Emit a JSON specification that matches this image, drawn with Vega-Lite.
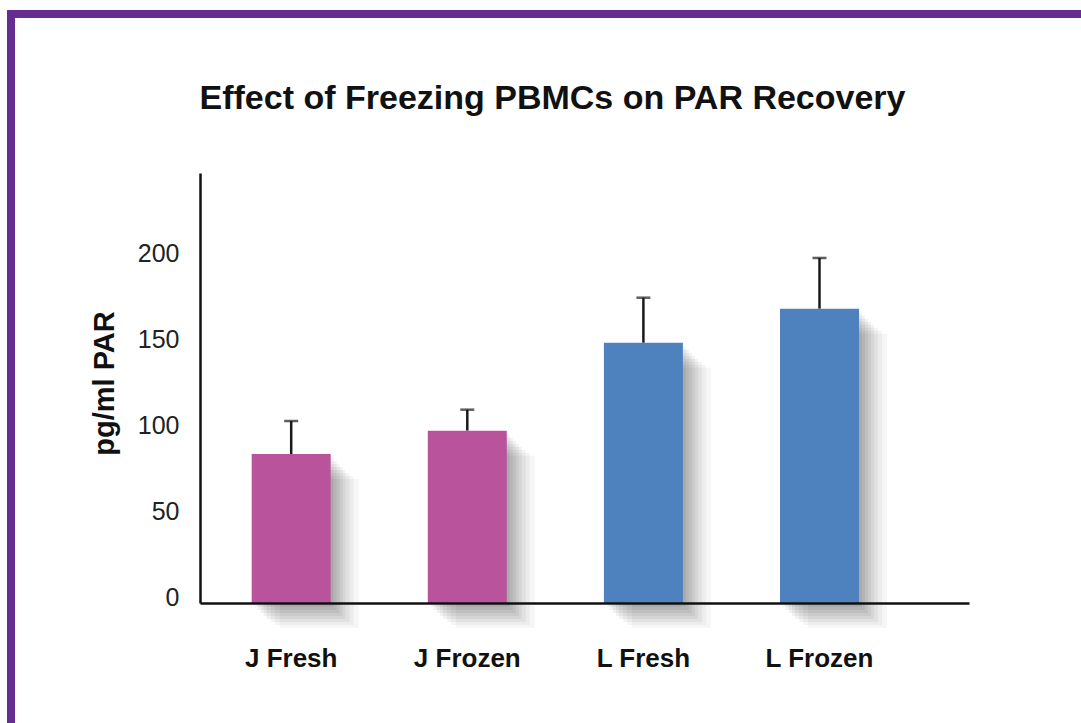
{
  "$schema": "https://vega.github.io/schema/vega-lite/v6.json",
  "padding": {"left": 7, "top": 10, "right": 0, "bottom": 0},
  "background": "white",
  "spacing": 0,
  "config": {
    "view": {"stroke": null},
    "font": "Liberation Sans"
  },
  "hconcat": [
    {
      "width": 8,
      "height": 713,
      "view": {"fill": "#652d90", "stroke": null},
      "data": {"values": []},
      "mark": {"type": "rule"},
      "encoding": {}
    },
    {
      "spacing": 0,
      "align": "none",
      "vconcat": [
        {
          "width": 1066,
          "height": 8,
          "view": {"fill": "#652d90", "stroke": null},
          "data": {"values": []},
          "mark": {"type": "rule"},
          "encoding": {}
        },
        {
          "spacing": 74,
          "hconcat": [
            {
              "width": 1,
              "height": 1,
              "view": {"fill": "white", "stroke": null},
              "data": {"values": []},
              "mark": {"type": "rule"},
              "encoding": {}
            },
            {
              "width": 769,
              "height": 430,
              "title": {
                "text": ["", "Effect of Freezing PBMCs on PAR Recovery"],
                "lineHeight": 64,
                "font": "Liberation Sans",
                "fontSize": 34,
                "fontWeight": "bold",
                "color": "#111111",
                "anchor": "middle",
                "frame": "group",
                "baseline": "alphabetic",
                "dx": -32,
                "offset": 30
              },
              "data": {
                "values": [
                  {"group": "J Fresh", "pbmc": "J", "value": 86.6, "err": 105.8},
                  {"group": "J Frozen", "pbmc": "J", "value": 100.2, "err": 112.4},
                  {"group": "L Fresh", "pbmc": "L", "value": 151.3, "err": 177.5},
                  {"group": "L Frozen", "pbmc": "L", "value": 171.1, "err": 200.6}
                ]
              },
              "encoding": {
                "x": {
                  "field": "group",
                  "type": "nominal",
                  "sort": null,
                  "scale": {"paddingInner": 0.5514, "paddingOuter": 0.4591, "align": 0.3197},
                  "axis": {
                    "title": null,
                    "labelAngle": 0,
                    "labelFont": "Liberation Sans",
                    "labelFontWeight": "bold",
                    "labelFontSize": 26,
                    "labelColor": "#111111",
                    "labelPadding": 42,
                    "ticks": false,
                    "domainColor": "#111111",
                    "domainWidth": 2.5,
                    "zindex": 1
                  }
                }
              },
              "layer": [
                {"mark": {"type": "bar", "color": "black", "opacity": 0.05, "xOffset": 3, "yOffset": 4}, "encoding": {"y": {"field": "value", "type": "quantitative"}}},
                {"mark": {"type": "bar", "color": "black", "opacity": 0.05, "xOffset": 6, "yOffset": 7}, "encoding": {"y": {"field": "value", "type": "quantitative"}}},
                {"mark": {"type": "bar", "color": "black", "opacity": 0.05, "xOffset": 9, "yOffset": 10}, "encoding": {"y": {"field": "value", "type": "quantitative"}}},
                {"mark": {"type": "bar", "color": "black", "opacity": 0.05, "xOffset": 12, "yOffset": 13}, "encoding": {"y": {"field": "value", "type": "quantitative"}}},
                {"mark": {"type": "bar", "color": "black", "opacity": 0.05, "xOffset": 15, "yOffset": 16}, "encoding": {"y": {"field": "value", "type": "quantitative"}}},
                {"mark": {"type": "bar", "color": "black", "opacity": 0.045, "xOffset": 19, "yOffset": 19}, "encoding": {"y": {"field": "value", "type": "quantitative"}}},
                {"mark": {"type": "bar", "color": "black", "opacity": 0.04, "xOffset": 23, "yOffset": 22}, "encoding": {"y": {"field": "value", "type": "quantitative"}}},
                {"mark": {"type": "bar", "color": "black", "opacity": 0.035, "xOffset": 28, "yOffset": 25}, "encoding": {"y": {"field": "value", "type": "quantitative"}}},
                {
                  "mark": {"type": "rule", "color": "#1a1a1a", "strokeWidth": 2.5},
                  "encoding": {
                    "y": {"field": "value", "type": "quantitative"},
                    "y2": {"field": "err"}
                  }
                },
                {
                  "mark": {"type": "tick", "color": "#1a1a1a", "size": 14, "thickness": 2.5},
                  "encoding": {"y": {"field": "err", "type": "quantitative"}}
                },
                {
                  "mark": {"type": "bar"},
                  "encoding": {
                    "y": {
                      "field": "value",
                      "type": "quantitative",
                      "scale": {"domain": [0, 250], "nice": false},
                      "axis": {
                        "title": "pg/ml PAR",
                        "titleFont": "Liberation Sans",
                        "titleFontWeight": "bold",
                        "titleFontSize": 29,
                        "titleColor": "#111111",
                        "titleAngle": -90,
                        "titleX": -96,
                        "titleY": 210,
                        "titleBaseline": "middle",
                        "titleAlign": "center",
                        "values": [0, 50, 100, 150, 200],
                        "labelFont": "Liberation Sans",
                        "labelFontSize": 25,
                        "labelColor": "#222222",
                        "labelPadding": 21,
                        "labelOffset": -6,
                        "ticks": false,
                        "grid": false,
                        "domainColor": "#111111",
                        "domainWidth": 2.5,
                        "zindex": 1
                      }
                    },
                    "color": {
                      "field": "pbmc",
                      "type": "nominal",
                      "scale": {"domain": ["J", "L"], "range": ["#b8539c", "#4d82bf"]},
                      "legend": null
                    }
                  }
                }
              ]
            }
          ]
        }
      ]
    }
  ]
}
